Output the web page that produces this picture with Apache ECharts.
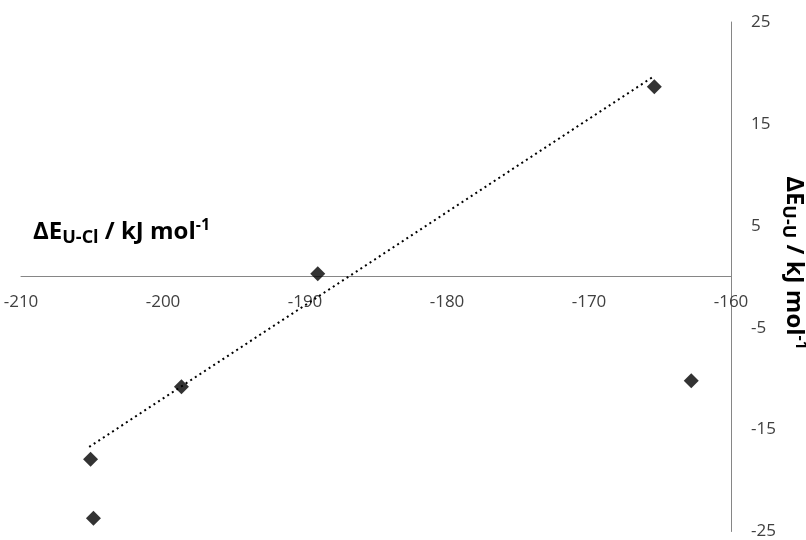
<!DOCTYPE html>
<html>
<head>
<meta charset="utf-8">
<script src="https://cdn.jsdelivr.net/npm/echarts@6/dist/echarts.min.js"></script>
<style>
html, body { margin: 0; padding: 0; background: #fff; }
#chart { width: 806px; height: 540px; }
</style>
</head>
<body>
<div id="chart"></div>
<script>
// values
const eUCl = [-205.1, -204.9, -198.7, -189.1, -165.4, -162.8];
const eUU = [-17.9, -23.7, -10.8, 0.3, 18.65, -10.2];
// dotted trend line, end points
const trendX = [-205.2, -165.4];
const trendY = [-16.7, 19.7];

const xMin = -210, xMax = -160, xStep = 10;
const yMin = -25, yMax = 25, yStep = 10;

const labelFont = 'Open Sans';
const titleFont = 'Open Sans';

const gridTop = 22, gridBottom = 7;
const gridH = 540 - gridTop - gridBottom;
// the x axis crosses the y axis at 0: move it up from the grid bottom
const xAxisShift = gridH * (0 - yMin) / (yMax - yMin);

const chart = echarts.init(document.getElementById('chart'));

const points = eUCl.map((x, i) => [x, eUU[i]]);
const trend = trendX.map((x, i) => [x, trendY[i]]);

const titleRich = {
    m: { fontFamily: titleFont, fontWeight: 'bold', fontSize: 24, lineHeight: 30, color: '#000' },
    s: { fontFamily: titleFont, fontWeight: 'bold', fontSize: 18, lineHeight: 12, verticalAlign: 'bottom', color: '#000' },
    p: { fontFamily: titleFont, fontWeight: 'bold', fontSize: 16, lineHeight: 13, verticalAlign: 'top', color: '#000' }
};

const option = {
    backgroundColor: '#fff',
    animation: false,
    grid: { left: 21, right: 75, top: gridTop, bottom: gridBottom, containLabel: false },
    xAxis: {
        type: 'value',
        position: 'bottom',
        offset: -xAxisShift,
        min: xMin, max: xMax, interval: xStep,
        axisLine: { onZero: false, lineStyle: { color: '#868686', width: 1 } },
        axisTick: { show: false },
        splitLine: { show: false },
        axisLabel: { margin: 18, color: '#404040', fontFamily: labelFont, fontSize: 17 }
    },
    yAxis: {
        type: 'value',
        position: 'right',
        min: yMin, max: yMax, interval: yStep,
        axisLine: { show: true, onZero: false, lineStyle: { color: '#868686', width: 1 } },
        axisTick: { show: false },
        splitLine: { show: false },
        axisLabel: { margin: 20, color: '#404040', fontFamily: labelFont, fontSize: 17 }
    },
    series: [
        {
            type: 'line',
            data: trend,
            showSymbol: false,
            symbol: 'none',
            silent: true,
            z: 1,
            lineStyle: { color: '#000', width: 2, type: [2, 3.5] }
        },
        {
            type: 'scatter',
            data: points,
            symbol: 'diamond',
            symbolSize: 15,
            z: 2,
            itemStyle: { color: '#000' }
        }
    ],
    graphic: [
        {
            type: 'text',
            left: 33,
            top: 217,
            style: {
                text: '{m|ΔE}{s|U-Cl}{m| / kJ mol}{p|-1}',
                rich: titleRich
            }
        },
        {
            type: 'text',
            x: 794,
            y: 263,
            rotation: -Math.PI / 2,
            style: {
                text: '{m|ΔE}{s|U-U}{m| / kJ mol}{p|-1}',
                align: 'center',
                verticalAlign: 'middle',
                rich: titleRich
            }
        }
    ]
};

chart.setOption(option);
</script>
</body>
</html>
